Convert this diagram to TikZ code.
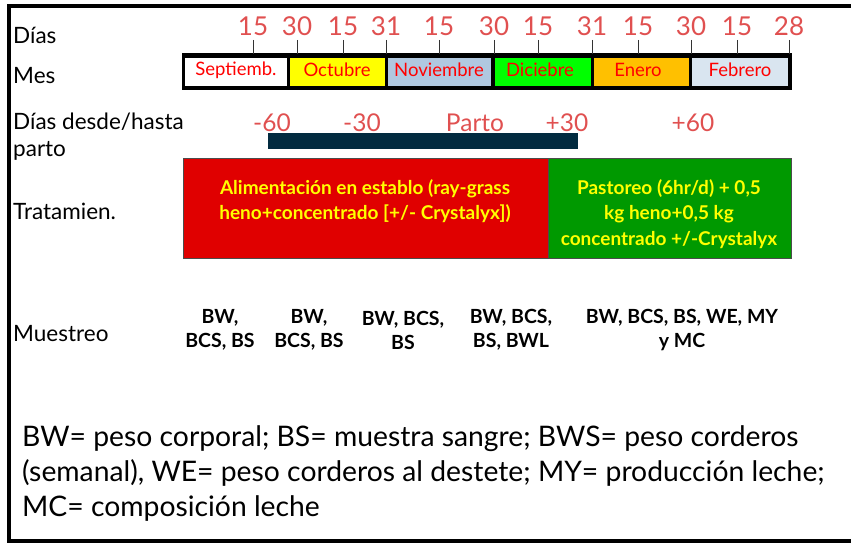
\documentclass[tikz,border=0pt]{standalone}
\usepackage{fontspec}
\setmainfont{Lato}
\definecolor{numred}{RGB}{224,80,80}
\definecolor{monred}{RGB}{255,0,0}
\definecolor{nov}{RGB}{176,200,224}
\definecolor{feb}{RGB}{217,229,240}
\definecolor{dic}{RGB}{0,255,0}
\definecolor{ene}{RGB}{255,192,0}
\definecolor{oct}{RGB}{255,255,0}
\definecolor{barblue}{RGB}{2,43,64}
\definecolor{boxred}{RGB}{224,0,0}
\definecolor{boxgreen}{RGB}{0,153,0}
\definecolor{txtyellow}{RGB}{255,255,0}
\tikzset{
  rowlabel/.style={anchor=base west,inner sep=0pt,font=\fontsize{22.5}{26}\selectfont},
  daynum/.style={anchor=base,inner sep=0pt,text=numred,font=\fontsize{26}{28}\selectfont},
  monthcell/.style={inner sep=0pt,anchor=north west},
  monthtxt/.style={text=monred,font=\fontsize{18.5}{20}\selectfont,inner sep=0pt},
  partotxt/.style={anchor=base,inner sep=0pt,text=numred,font=\fontsize{24.5}{28}\selectfont},
  treatbox/.style={draw=black!70,line width=0.8pt,inner sep=0pt,anchor=north west},
  treattxt/.style={text=txtyellow,align=center,inner sep=0pt,font=\bfseries\fontsize{19}{25.5}\selectfont},
  sampletxt/.style={align=center,inner sep=0pt,font=\bfseries\fontsize{19.5}{24}\selectfont},
  tick/.style={black!80,line width=0.9pt},
  frame/.style={line width=4pt,black}
}
\begin{document}
\begin{tikzpicture}[x=1pt,y=-1pt]
\useasboundingbox (0,0) rectangle (851,543);
% frame
\draw[frame] (851,6) -- (9,6) -- (9,541) -- (851,541);

% row labels
\node[rowlabel] (ldias) at (13,44) {Días};
\node[rowlabel] (lmes) at (13,84) {Mes};
\node[rowlabel] (ldesde) at (13,129) {Días desde/hasta};
\node[rowlabel] (lparto) at (13,156) {parto};
\node[rowlabel] (ltrat) at (13,219) {Tratamien.};
\node[rowlabel] (lmues) at (13,341) {Muestreo};

% month bar
\fill[black] (182,53) rectangle (792,90);
\fill[white] (185,58) rectangle (287,86);
\fill[oct] (290,58) rectangle (385,86);
\fill[nov] (388,58) rectangle (491,86);
\fill[dic] (495,58) rectangle (591,86);
\fill[ene] (594,58) rectangle (689,86);
\fill[feb] (692,58) rectangle (788,86);
\node[monthtxt] (m1) at (236,70) {Septiemb.};
\node[monthtxt] (m2) at (337,70) {Octubre};
\node[monthtxt] (m3) at (439,70) {Noviembre};
\node[monthtxt] (m4) at (540,70) {Diciebre};
\node[monthtxt] (m5) at (638,70) {Enero};
\node[monthtxt] (m6) at (740,70) {Febrero};

% day ticks and numbers
\foreach \x/\d [count=\i] in {253/15,297/30,343/15,386/31,439/15,494/30,538/15,592/31,638/15,691/30,737/15,789/28}{
  \node[daynum] (d\i) at (\x,36) {\d};
  \coordinate (t\i) at (\x,54);
  \draw[tick] (d\i.south |- 0,40) -- (t\i);
}

% parto row
\node[partotxt] (p1) at (272,131) {-60};
\node[partotxt] (p2) at (362,131) {-30};
\node[partotxt] (p3) at (475,131) {Parto};
\node[partotxt] (p4) at (567,131) {+30};
\node[partotxt] (p5) at (693,131) {+60};
\fill[barblue] (268,133) rectangle (578,149);

% treatment boxes
\node[treatbox,fill=boxred,minimum width=365pt,minimum height=100pt] (tr1) at (183,158) {};
\node[treatbox,fill=boxgreen,minimum width=243pt,minimum height=100pt] (tr2) at (548,158) {};
\node[treattxt] (tt1) at (365,201) {Alimentación en establo (ray-grass\\heno+concentrado [+/- Crystalyx])};
\node[treattxt] (tt2) at (669,214) {Pastoreo (6hr/d) + 0,5\\kg heno+0,5 kg\\concentrado +/-Crystalyx};

% sampling
\node[sampletxt] (s1) at (220,330) {BW,\\BCS, BS};
\node[sampletxt] (s2) at (309,330) {BW,\\BCS, BS};
\node[sampletxt] (s3) at (403,330) {BW, BCS,\\BS};
\node[sampletxt] (s4) at (511,330) {BW, BCS,\\BS, BWL};
\node[sampletxt] (s5) at (682,330) {BW, BCS, BS, WE, MY\\y MC};

% legend
\node[anchor=west,align=left,inner sep=0pt,font=\fontsize{28.3}{35}\selectfont] (leg) at (22,473)
 {BW= peso corporal; BS= muestra sangre; BWS= peso corderos\\(semanal), WE= peso corderos al destete; MY= producción leche;\\MC= composición leche};
\end{tikzpicture}
\end{document}
